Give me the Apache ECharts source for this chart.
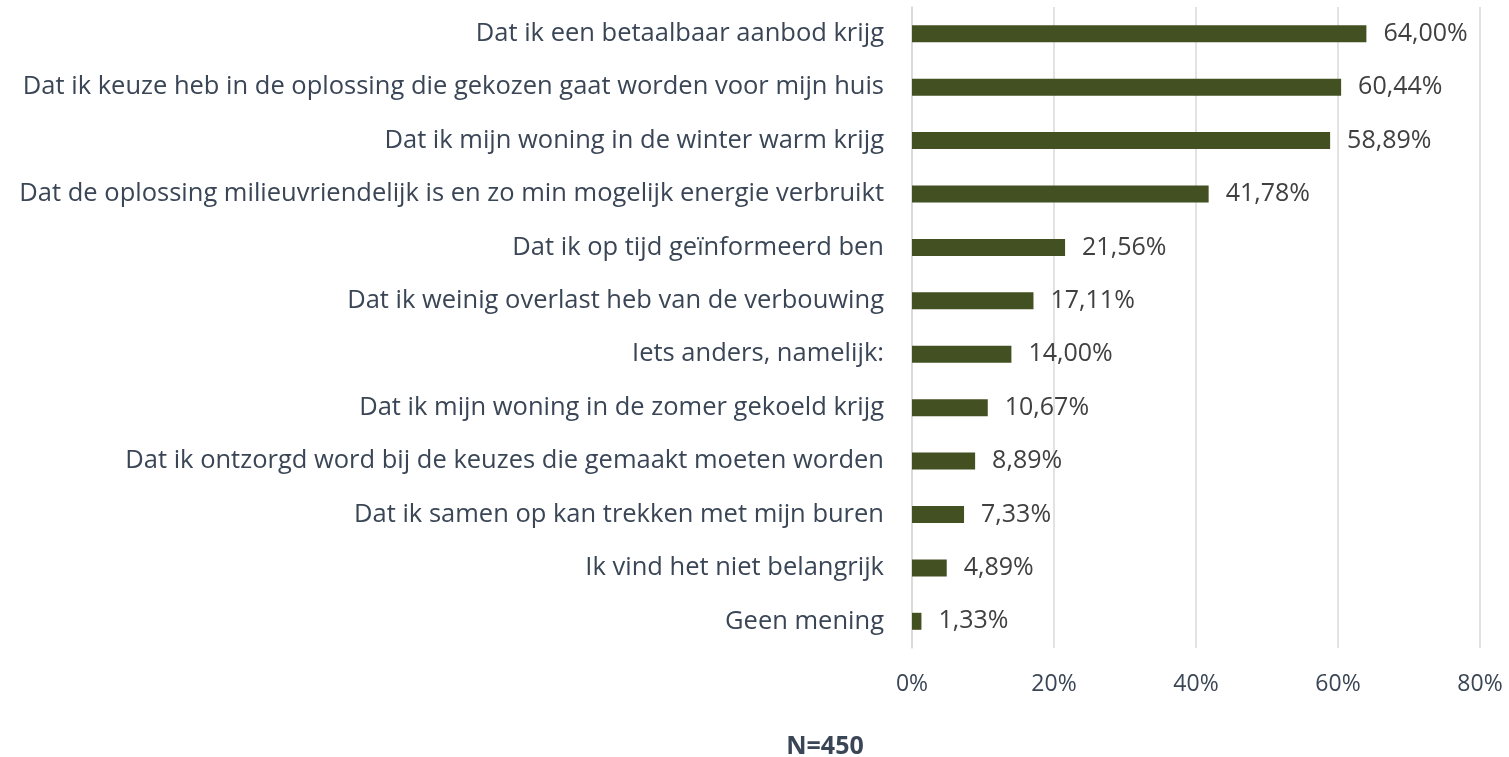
<!DOCTYPE html>
<html>
<head>
<meta charset="utf-8">
<script src="https://cdn.jsdelivr.net/npm/echarts@6/dist/echarts.min.js"></script>
<style>
  html, body { margin: 0; padding: 0; background: #fff; }
  #chart { width: 1509px; height: 757px; }
</style>
</head>
<body>
<div id="chart"></div>
<script>
// categories top to bottom
var categories = [
  "Dat ik een betaalbaar aanbod krijg",
  "Dat ik keuze heb in de oplossing die gekozen gaat worden voor mijn huis",
  "Dat ik mijn woning in de winter warm krijg",
  "Dat de oplossing milieuvriendelijk is en zo min mogelijk energie verbruikt",
  "Dat ik op tijd geïnformeerd ben",
  "Dat ik weinig overlast heb van de verbouwing",
  "Iets anders, namelijk:",
  "Dat ik mijn woning in de zomer gekoeld krijg",
  "Dat ik ontzorgd word bij de keuzes die gemaakt moeten worden",
  "Dat ik samen op kan trekken met mijn buren",
  "Ik vind het niet belangrijk",
  "Geen mening"
];
var values = [64.00, 60.44, 58.89, 41.78, 21.56, 17.11, 14.00, 10.67, 8.89, 7.33, 4.89, 1.33];
var xTicks = [0, 20, 40, 60, 80];

var textColor = "#3a4656";
var valueColor = "#404040";
var fontFam = "'Open Sans', sans-serif";

var myChart = echarts.init(document.getElementById("chart"));

var option = {
  backgroundColor: "#fff",
  animation: false,
  textStyle: { fontFamily: fontFam },
  grid: {
    left: 912,
    right: 29,
    top: 7,
    bottom: 109,
    containLabel: false
  },
  title: {
    text: "N=450",
    left: 820,
    top: 729,
    textAlign: "center",
    textStyle: {
      fontFamily: fontFam,
      fontSize: 25,
      fontWeight: "bold",
      color: textColor
    }
  },
  xAxis: {
    type: "value",
    min: xTicks[0],
    max: xTicks[xTicks.length - 1],
    interval: 20,
    axisLine: { show: false },
    axisTick: { show: false },
    splitLine: { show: true, lineStyle: { color: "#d9d9d9", width: 1.5 } },
    axisLabel: {
      formatter: "{value}%",
      color: textColor,
      fontSize: 23,
      margin: 25
    }
  },
  yAxis: {
    type: "category",
    inverse: true,
    data: categories,
    axisLine: { show: true, lineStyle: { color: "#d9d9d9", width: 1.5 } },
    axisTick: { show: false },
    axisLabel: {
      color: textColor,
      fontSize: 25.5,
      margin: 28
    }
  },
  series: [
    {
      type: "bar",
      data: values,
      barWidth: 17,
      itemStyle: { color: "#435022" },
      label: {
        show: true,
        position: "right",
        distance: 17,
        color: valueColor,
        fontSize: 25,
        formatter: function (p) {
          return p.value.toFixed(2).replace(".", ",") + "%";
        }
      }
    }
  ]
};

myChart.setOption(option);
</script>
</body>
</html>
